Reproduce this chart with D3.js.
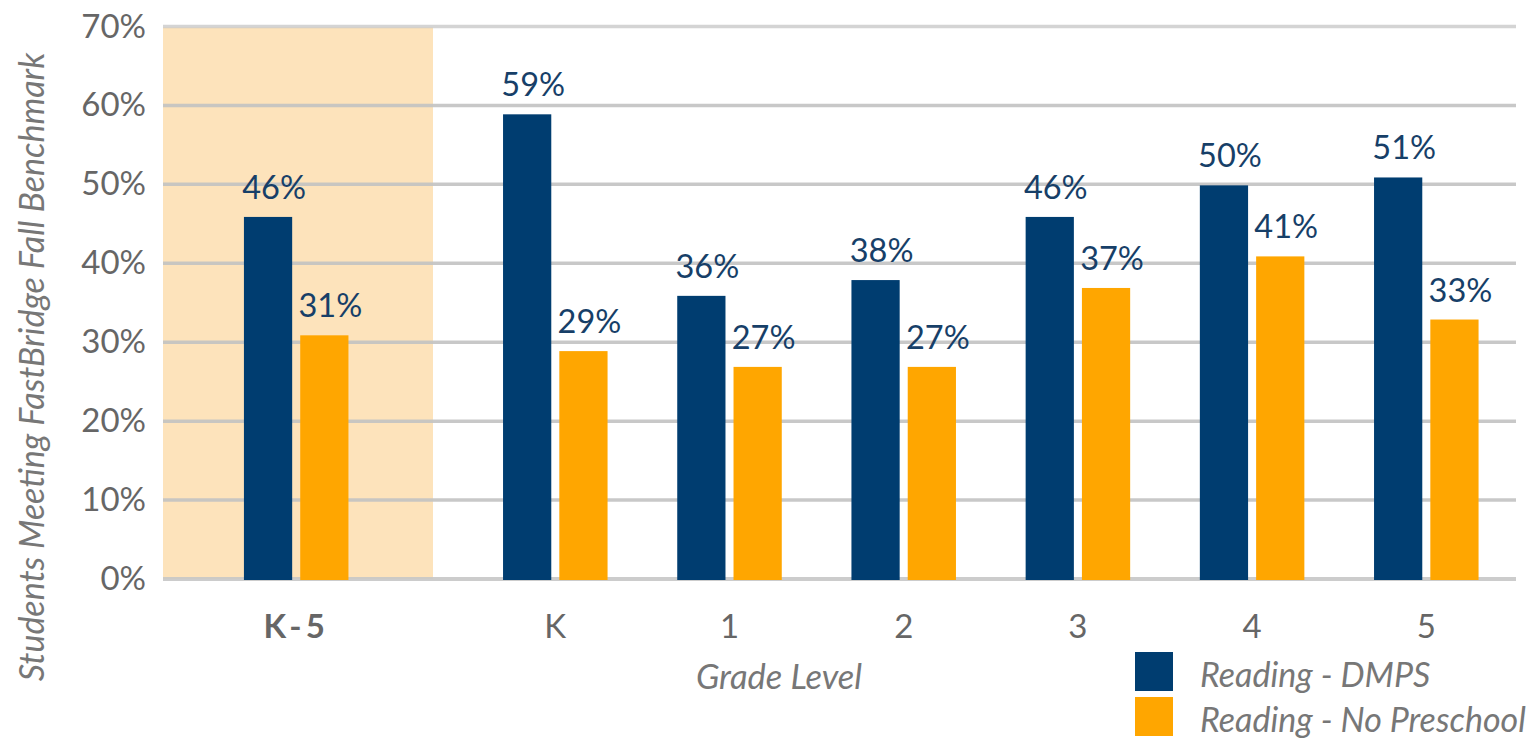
<!DOCTYPE html>
<html lang="en">
<head>
    <meta charset="UTF-8">
    <title>Reading FastBridge Fall Benchmark</title>
    <script src="https://d3js.org/d3.v7.min.js"></script>
    <style>
      body{ margin:0; background:#fff; }
      svg text{ font-family: "Lato", "Open Sans", sans-serif; }
    </style>
</head>
<body>
    <script>
        // data
        const summaryGroup = ["K-5"];
        const grades = ["K", "1", "2", "3", "4", "5"];
        const dmps = [0.46, 0.59, 0.36, 0.38, 0.46, 0.50, 0.51];
        const noPreschool = [0.31, 0.29, 0.27, 0.27, 0.37, 0.41, 0.33];
        const seriesNames = ["Reading - DMPS", "Reading - No Preschool"];
        const yTicks = [0, 0.1, 0.2, 0.3, 0.4, 0.5, 0.6, 0.7];

        const width = 1538;
        const height = 741;
        const navy = "#003d70";
        const orange = "#ffa600";
        const colors = [navy, orange];

        const svg = d3.select("body").append("svg")
            .attr("width", width)
            .attr("height", height);

        const left = 163, right = 1516, bandEnd = 433;

        const y = d3.scaleLinear().domain([0, 0.7]).range([579, 26.5]);

        const xSummary = d3.scaleBand().domain(summaryGroup)
            .range([left - 3, bandEnd]).paddingInner(0.4).paddingOuter(0.479);
        const xGrades = d3.scaleBand().domain(grades)
            .range([468.2, 1513.4]).paddingInner(0.4).paddingOuter(0.2);
        const xSub = d3.scaleBand().domain([0, 1])
            .range([0, xGrades.bandwidth()]).paddingInner(0.143);

        const allGroups = summaryGroup.concat(grades);
        const groupX = g => g === "K-5" ? xSummary(g) : xGrades(g);

        const rows = allGroups.map((g, i) => ({group: g, values: [dmps[i], noPreschool[i]]}));

        // highlighted K-5 band
        svg.append("rect")
            .attr("x", left)
            .attr("y", y(0.7) + 1)
            .attr("width", bandEnd - left)
            .attr("height", y(0) - y(0.7) - 1)
            .style("fill", "#fde3bb");

        // gridlines
        svg.append("g").selectAll("line")
            .data(yTicks)
            .join("line")
            .attr("x1", left)
            .attr("x2", right)
            .attr("y1", d => y(d))
            .attr("y2", d => y(d))
            .style("stroke", d => d === 0 ? "#c6c6c6" : "#c2c2c2")
            .style("stroke-opacity", d => d === 0.7 ? 0.7 : 0.9)
            .style("stroke-width", d => d === 0 ? 4 : 3.5);

        // y tick labels
        svg.append("g").selectAll("text")
            .data(yTicks)
            .join("text")
            .attr("x", 146)
            .attr("y", d => y(d) + 11)
            .attr("text-anchor", "end")
            .style("font-size", "33px")
            .style("fill", "#666")
            .text(d => d3.format(".0%")(d));

        // bars
        const groupsG = svg.append("g").selectAll("g")
            .data(rows)
            .join("g")
            .attr("transform", d => `translate(${groupX(d.group)},0)`);

        groupsG.selectAll("rect")
            .data(d => d.values)
            .join("rect")
            .attr("x", (d, i) => xSub(i))
            .attr("y", d => y(d) + 1)
            .attr("width", xSub.bandwidth())
            .attr("height", d => y(0) - y(d))
            .style("fill", (d, i) => colors[i]);

        groupsG.selectAll("text")
            .data(d => d.values)
            .join("text")
            .attr("x", (d, i) => xSub(i) + xSub.bandwidth() / 2 + 6)
            .attr("y", d => y(d) - 17)
            .attr("text-anchor", "middle")
            .style("font-size", "32.5px")
            .style("fill", "#173f68")
            .text(d => d3.format(".0%")(d));

        // x labels
        svg.append("g").selectAll("text")
            .data(allGroups)
            .join("text")
            .attr("x", d => groupX(d) + xGrades.bandwidth() / 2)
            .attr("y", 638)
            .attr("text-anchor", "middle")
            .style("font-size", "33px")
            .style("font-weight", d => d === "K-5" ? "bold" : "normal")
            .style("letter-spacing", d => d === "K-5" ? "4px" : "0px")
            .style("fill", "#666")
            .text(d => d);

        // axis titles
        svg.append("text")
            .attr("x", 779)
            .attr("y", 689)
            .attr("text-anchor", "middle")
            .style("font-size", "34.5px")
            .style("font-style", "italic")
            .style("fill", "#777")
            .text("Grade Level");

        svg.append("text")
            .attr("transform", "translate(44,367) rotate(-90)")
            .attr("text-anchor", "middle")
            .style("font-size", "34px")
            .style("font-style", "italic")
            .style("fill", "#777")
            .text("Students Meeting FastBridge Fall Benchmark");

        // legend
        const legend = svg.append("g").selectAll("g")
            .data(seriesNames)
            .join("g")
            .attr("transform", (d, i) => `translate(1135,${652 + i * 45})`);

        legend.append("rect")
            .attr("width", 38)
            .attr("height", 39)
            .style("fill", (d, i) => colors[i]);

        legend.append("text")
            .attr("x", 65)
            .attr("y", 35)
            .style("font-size", "34px")
            .style("font-style", "italic")
            .style("fill", "#777")
            .text(d => d);
    </script>
</body>
</html>
